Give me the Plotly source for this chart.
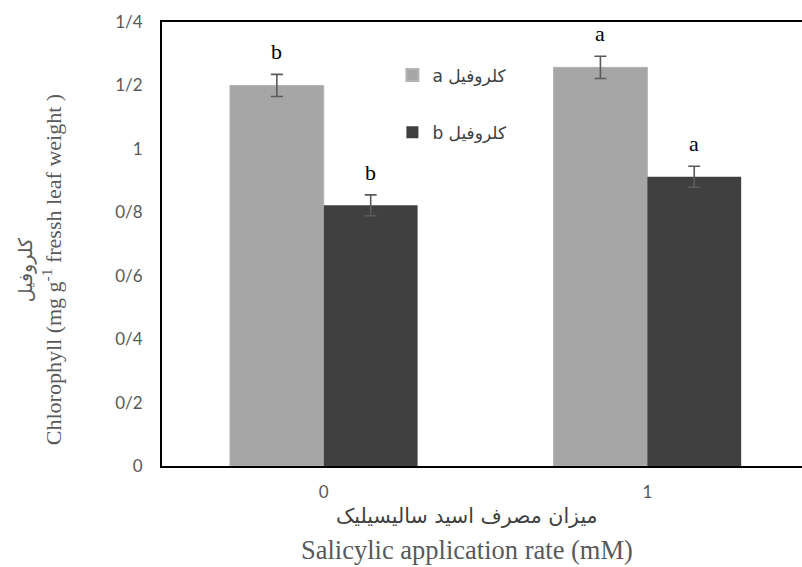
import plotly.graph_objects as go

categories = ["0", "1"]
series_names = ["a کلروفیل", "b کلروفیل"]
chl_a = [1.20, 1.257]
chl_a_err = [0.035, 0.035]
chl_b = [0.822, 0.912]
chl_b_err = [0.033, 0.033]
letters_a = ["b", "a"]
letters_b = ["b", "a"]
ytick_vals = [0, 0.2, 0.4, 0.6, 0.8, 1.0, 1.2, 1.4]
ytick_text = ["0", "0/2", "0/4", "0/6", "0/8", "1", "1/2", "1/4"]

colors = ["#a6a6a6", "#404040"]
x_idx = [0, 1]

fig = go.Figure()
fig.add_trace(go.Bar(
    x=x_idx, y=chl_a, name=series_names[0], legendgroup="g1",
    marker=dict(color=colors[0], line=dict(color="#b4b4b4", width=1)),
    error_y=dict(type="data", array=chl_a_err, color="#5a5a5a", thickness=1.6, width=6),
))
fig.add_trace(go.Bar(
    x=x_idx, y=chl_b, name=series_names[1], legendgroup="g2",
    marker=dict(color=colors[1], line=dict(width=0)),
    error_y=dict(type="data", array=chl_b_err, color="#5a5a5a", thickness=1.6, width=6),
))

serif = "Liberation Serif, Times New Roman, serif"
annotations = []
offset = 0.29 / 2
for i in x_idx:
    annotations.append(dict(x=i - offset, y=chl_a[i] + chl_a_err[i], xref="x", yref="y",
                            text=letters_a[i], showarrow=False, yanchor="bottom", yshift=8,
                            font=dict(family=serif, size=22, color="black")))
    annotations.append(dict(x=i + offset, y=chl_b[i] + chl_b_err[i], xref="x", yref="y",
                            text=letters_b[i], showarrow=False, yanchor="bottom", yshift=8,
                            font=dict(family=serif, size=22, color="black")))

# axis titles
annotations.append(dict(xref="paper", yref="paper", x=0, xshift=-137, y=0.441,
                        text="کلروفیل", textangle=-90, showarrow=False,
                        xanchor="center", yanchor="middle",
                        font=dict(family="DejaVu Sans", size=19, color="#595959")))
annotations.append(dict(xref="paper", yref="paper", x=0, xshift=-110, y=0.441,
                        text="Chlorophyll (mg g<sup>-1</sup> fressh leaf weight )", textangle=-90,
                        showarrow=False, xanchor="center", yanchor="middle",
                        font=dict(family=serif, size=22, color="#595959")))
annotations.append(dict(xref="paper", yref="paper", x=0.476, y=0, yshift=-50,
                        text="میزان مصرف اسید سالیسیلیک", showarrow=False,
                        xanchor="center", yanchor="middle",
                        font=dict(family="DejaVu Sans", size=20.5, color="#404040")))
annotations.append(dict(xref="paper", yref="paper", x=0.476, y=0, yshift=-84,
                        text="Salicylic application rate (mM)", showarrow=False,
                        xanchor="center", yanchor="middle",
                        font=dict(family=serif, size=26.5, color="#595959")))

fig.update_layout(
    width=802, height=567,
    margin=dict(l=162, r=0, t=22, b=101),
    paper_bgcolor="white", plot_bgcolor="white",
    barmode="group", bargap=0.42, bargroupgap=0,
    showlegend=True,
    legend=dict(x=0.36, y=0.92, xanchor="left", yanchor="top",
                bgcolor="rgba(0,0,0,0)", tracegroupgap=32,
                font=dict(family="DejaVu Sans", size=17, color="#404040"),
                itemsizing="constant"),
    annotations=annotations,
    xaxis=dict(range=[-0.5, 1.478], tickvals=x_idx, ticktext=categories,
               showline=True, linecolor="black", linewidth=2, mirror=True,
               showgrid=False, zeroline=False, ticks="", ticklabelstandoff=10,
               tickfont=dict(family="Lato, Noto Sans, sans-serif", size=17, color="#595959")),
    yaxis=dict(range=[0, 1.4], tickvals=ytick_vals, ticktext=ytick_text,
               showline=True, linecolor="black", linewidth=2, mirror=False,
               showgrid=False, zeroline=False, ticks="", ticklabelstandoff=14,
               tickfont=dict(family="Lato, Noto Sans, sans-serif", size=17, color="#595959")),
)

fig.write_html("out.html")
